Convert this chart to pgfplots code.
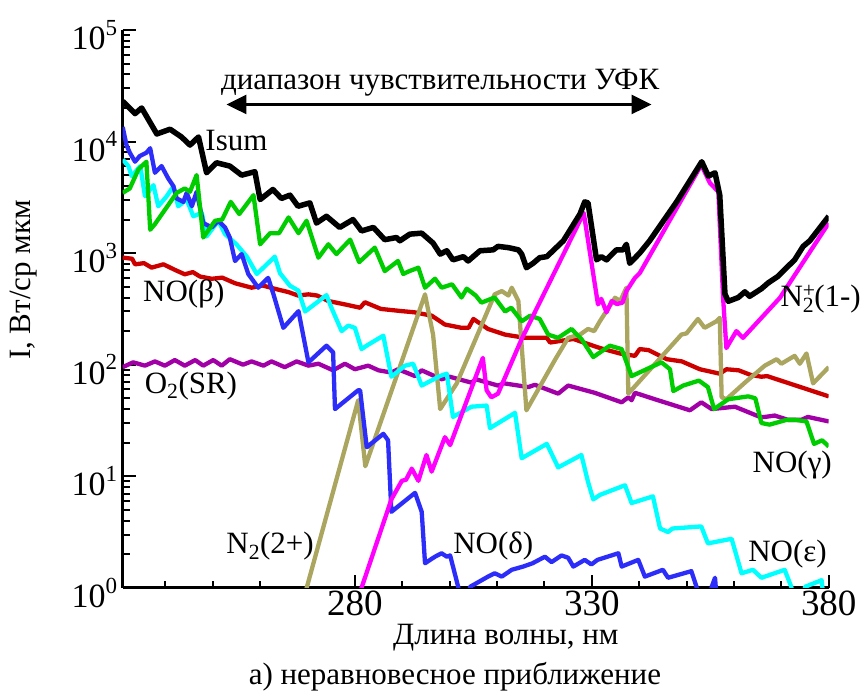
\documentclass[border=0pt]{standalone}
\usepackage{pgfplots}
\pgfplotsset{compat=1.18}
\usepackage{fontspec}
\setmainfont{Liberation Serif}
\usetikzlibrary{arrows.meta}
\definecolor{cBlue}{RGB}{45,45,250}
\definecolor{cCyan}{RGB}{0,255,255}
\definecolor{cGreen}{RGB}{0,205,0}
\definecolor{cRed}{RGB}{205,0,0}
\definecolor{cPurple}{RGB}{160,0,165}
\definecolor{cOlive}{RGB}{170,165,95}
\definecolor{cMagenta}{RGB}{255,0,255}
\newcommand{\lbl}{\fontsize{31}{36}\selectfont}
\newcommand{\tp}[1]{10\raisebox{0.42em}{\fontsize{23}{23}\selectfont #1}}
\begin{document}
\begin{tikzpicture}
\begin{axis}[
  scale only axis, width=706.3pt, height=558pt,
  xmin=231, xmax=380, ymin=1, ymax=1e5, ymode=log,
  axis x line*=bottom, axis y line*=left,
  axis line style={line width=2.6pt, -},
  xtick={280,330,380}, xticklabels={280,330,380},
  minor xtick={240,250,260,270,290,300,310,320,340,350,360,370},
  ytick={1,10,100,1000,10000,100000},
  yticklabels={\tp{0},\tp{1},\tp{2},\tp{3},\tp{4},\tp{5}},
  minor ytick={2,3,4,5,6,7,8,9,20,30,40,50,60,70,80,90,200,300,400,500,600,700,800,900,2000,3000,4000,5000,6000,7000,8000,9000,20000,30000,40000,50000,60000,70000,80000,90000},
  tick align=inside,
  major tick length=13pt, minor tick length=7pt,
  every tick/.append style={line width=2pt, black},
  xticklabel style={font=\fontsize{37}{42}\selectfont},
  yticklabel style={font=\fontsize{34}{38}\selectfont, yshift=-5pt, xshift=-2pt},
  clip mode=individual,
  every axis plot/.append style={line width=4.3pt, line join=round},
]
\addplot[cPurple] coordinates {(231,95)(233.2,105)(235.7,98)(237.8,107)(239.9,98)(242,110)(244.1,98)(246.3,110)(248,98)(250.1,110)(251.9,98)(253.6,112)(256.4,100)(258.2,107)(260.7,98)(262.4,107)(265.2,95)(267.7,107)(270.2,98)(272.3,102)(275.4,89)(277.9,102)(280,91)(282.8,98)(285,89)(287.7,85)(289.1,91)(292.7,79)(294.1,89)(298.3,74)(300,78)(304.6,69)(305.5,74)(310.2,65)(311.5,68)(316.6,63)(318,66)(322.9,55)(325,65)(330.6,56)(336.3,46)(337.7,51)(338.4,48)(339.1,56)(343.3,49)(350.7,39)(353.1,46)(355.3,40)(360.2,42)(365.5,34)(366.5,34)(368.6,35)(371.4,32)(374.2,32)(375.6,34)(380,31)};
\addplot[cRed] coordinates {(231,912)(233,890)(233.6,794)(235.5,813)(237.1,741)(239.6,794)(242,708)(244.1,646)(245.8,676)(247.3,617)(249.8,589)(252,603)(254.7,537)(258.2,490)(260.5,513)(263.1,479)(266,447)(268,417)(270.2,427)(272,417)(274.4,372)(277.9,347)(281.1,324)(282.1,363)(285.5,316)(289.9,302)(292.5,295)(296.2,275)(299,229)(302.5,214)(304,214)(305,257)(308.1,209)(311.7,186)(315.9,174)(320.5,174)(321.2,158)(326.1,170)(331.7,141)(335.9,126)(339.1,120)(340.1,138)(342,135)(345.8,112)(349,107)(352.8,91)(357,83)(358.4,91)(361,89)(363.5,81)(365.8,78)(367,79)(380,52)};
\addplot[cOlive] coordinates {(269.5,0.89)(280.7,48)(282.2,12.3)(294.8,427)(296.5,186)(298,40)(301.5,68)(309.5,427)(311,457)(312.4,417)(313.1,490)(314.5,372)(316.2,39)(322.2,110)(325,174)(327.5,186)(329.2,209)(330.5,200)(331.7,245)(334.9,398)(336,372)(337.3,490)(337.7,55)(348.9,186)(350,191)(352.4,257)(353.8,214)(356.3,245)(357,263)(357.4,51)(358.4,49)(362.3,69)(366.5,98)(369,112)(370,102)(372.8,120)(373.9,102)(375.3,126)(376.7,68)(380,95)};
\addplot[cCyan] coordinates {(231,6900)(232.2,6030)(232.9,4900)(234.7,6030)(235.7,3240)(237.5,4070)(238.5,2630)(240.3,3240)(241.7,3980)(242.7,2630)(244.5,3020)(245.9,2140)(247.7,2290)(248.7,1410)(251.2,1950)(252.6,1480)(255,1200)(257.2,930)(259.3,650)(263.1,930)(264.2,660)(266.3,510)(268.1,460)(269.5,300)(274,420)(275.1,320)(277.2,200)(278.6,224)(280,214)(281.4,138)(282.8,151)(286,182)(287.7,78)(290.6,98)(292.3,102)(294.1,65)(297.9,79)(299.4,83)(300.7,34)(304.6,42)(307.8,43)(308.5,27)(313.8,37)(315.2,14.5)(320.5,19.5)(322.9,12)(327.8,15.5)(329.2,8.9)(330.3,6.2)(331.7,6.8)(337,8.3)(338.4,5.75)(342.9,6.6)(344.4,3.4)(346.1,3.16)(347,3.4)(353.1,3.55)(354.5,2.5)(359.5,2.75)(361.6,1.35)(364,1.45)(365.8,1.23)(370.7,1.45)(372.1,1.02)(372.8,0.6)(374.3,0.6)(375,1.02)(378.5,1.17)(379.2,0.6)};
\addplot[cBlue] coordinates {(231,13500)(231.8,9300)(232.5,7940)(233.6,6600)(234.6,7410)(236,7940)(236.8,8710)(237.8,5250)(239.2,6030)(240.6,4680)(241.7,3980)(242.4,3090)(243.8,2880)(244.5,3470)(245.6,2630)(246.6,3550)(248,1860)(249.8,1700)(251.2,1950)(252.6,1700)(253.6,1380)(254.7,850)(256.1,980)(257.5,650)(259.6,490)(261.7,600)(262.8,430)(264.9,214)(268.1,302)(270.2,105)(274,148)(275.4,129)(275.8,40)(280.7,59)(281.1,59)(282.5,18.2)(286,24)(287,21)(287.7,4.8)(292.7,7.1)(294.1,4.8)(294.8,1.66)(296.9,1.9)(298.3,2.04)(299.4,1.9)(300.1,1.95)(301.8,1.02)(302.5,0.6)(303.6,0.6)(304.3,1.02)(308.1,1.26)(309.5,1.35)(311,1.26)(313.1,1.45)(315.5,1.55)(317.5,1.66)(320.1,1.9)(321.5,1.7)(323.6,1.95)(325,1.86)(326.1,1.55)(328.5,1.78)(329.9,1.62)(331.2,1.78)(335.6,2.04)(336.3,1.55)(339.8,1.78)(341.2,1.26)(345,1.45)(346.1,1.23)(351,1.41)(352.1,1.02)(352.8,0.6)(354.6,0.6)(355.3,1.02)(356,1.23)(356.6,0.6)};
\addplot[cGreen] coordinates {(231,3470)(232.5,3800)(234.3,5620)(236,6600)(236.8,1620)(237.8,1820)(242.4,3470)(244.1,3800)(245.2,3550)(246.6,5010)(248,1380)(250.5,1950)(252,2000)(253.8,2880)(255.6,2240)(258.6,3310)(260,1200)(262.1,1510)(264,1510)(266,2090)(268.1,1510)(269.8,1950)(272.3,910)(274.4,1200)(276.1,980)(279,1320)(280.9,830)(284.2,1120)(286.3,690)(289.1,850)(290.2,650)(291.5,690)(293.4,740)(294.8,490)(296.9,590)(298.3,490)(300.5,525)(302.5,400)(303.6,480)(305.5,417)(306.7,360)(309.5,400)(311.7,300)(313,324)(315.2,245)(317,275)(319,257)(320.8,186)(322.9,174)(325.7,209)(327.8,170)(330.3,117)(333.8,148)(336.3,138)(338.4,79)(344.7,105)(346.5,91)(347.2,58)(349.3,65)(352.6,72)(354.5,63)(355.8,40)(358.8,49)(363,52)(364.5,50)(365.8,30)(367.5,29)(371.1,32)(373,32)(375.3,31)(376.9,19.5)(378.6,21)(380,18.5)};
\addplot[cMagenta] coordinates {(281,0.89)(287.7,6.2)(289.9,9.1)(290.8,9.3)(292,11.7)(293.4,9.1)(295.1,15.5)(296.2,11)(299,22.4)(300.1,19)(307,115)(307.8,59)(308.8,51)(310.2,55)(315.2,170)(328.3,2290)(331.3,347)(332,389)(333.1,295)(334.2,372)(335.3,350)(336.5,360)(337.3,457)(339.1,600)(340.1,660)(353.1,6170)(354.9,4270)(356.7,3550)(357.7,400)(358.4,141)(360.5,200)(361.9,174)(369.7,398)(380,1860)};
\addplot[black, line width=5.5pt] coordinates {(231,23000)(233.6,17800)(235,20000)(238.2,11700)(241,12900)(243.4,11000)(245.2,9300)(247,11000)(248.7,5250)(250.8,6460)(253.6,6030)(256.1,5000)(258.9,5370)(260,3020)(262.7,3720)(264.5,3090)(266.3,3310)(268,2630)(270.5,2820)(271.9,1860)(274,2140)(276.8,1700)(279.6,2000)(281.4,1580)(283.9,1700)(286.3,1320)(288.8,1380)(289.5,1290)(291.6,1480)(294.1,1510)(296.5,1230)(298,980)(299.4,1050)(300.7,870)(302.9,930)(303.9,850)(306.4,1050)(309.2,1070)(310.2,1150)(312.4,1120)(314.5,1070)(315.2,980)(316.2,740)(317.6,810)(319,910)(320.5,930)(324,1290)(327.5,2240)(328.5,2880)(329.2,2820)(331,870)(332,930)(333.1,870)(335.2,1070)(336.6,1070)(337.3,1200)(338,810)(340.1,1000)(342.2,1290)(347.9,2880)(353.2,6600)(354.6,4900)(356,5250)(357,3310)(358.1,430)(358.8,370)(360.9,400)(362.3,450)(363.3,410)(365.8,480)(367.2,540)(369.3,620)(371.1,740)(372.8,870)(374.6,1150)(376,1290)(380,2140)};
% labels
\node[font=\lbl] at (axis cs:255,10200) {Isum};
\node[font=\lbl] at (axis cs:243.9,427) {NO(β)};
\node[font=\lbl] at (axis cs:245.4,65) {O\textsubscript{2}(SR)};
\node[font=\lbl] at (axis cs:262.1,2.37) {N\textsubscript{2}(2+)};
\node[font=\lbl] at (axis cs:309.2,2.37) {NO(δ)};
\node[font=\lbl] at (axis cs:372.3,12.6) {NO(γ)};
\node[font=\lbl] at (axis cs:371.3,2.0) {NO(ε)};
\node[font=\lbl] at (axis cs:378.3,389) {N\rlap{\textsuperscript{+}}\textsubscript{2}(1-)};
\node[font=\lbl, anchor=base] at (axis cs:298,29100) {диапазон чувствительности УФК};
\draw[line width=2.6pt, {Triangle[length=20pt,width=19pt]}-{Triangle[length=20pt,width=19pt]}] (axis cs:252.9,21500) -- (axis cs:342.6,21500);
\node[font=\lbl, anchor=base] at (rel axis cs:0.5427,-0.1022) {Длина волны, нм};
\node[font=\lbl, anchor=base] at (rel axis cs:0.4705,-0.1738) {а) неравновесное приближение};
\node[font=\lbl, rotate=90] at (rel axis cs:-0.1397,0.552) {I, Вт/ср мкм};
\path (rel axis cs:-0.1738,-0.1953) (rel axis cs:1.0542,1.0538);
\end{axis}
\end{tikzpicture}
\end{document}
